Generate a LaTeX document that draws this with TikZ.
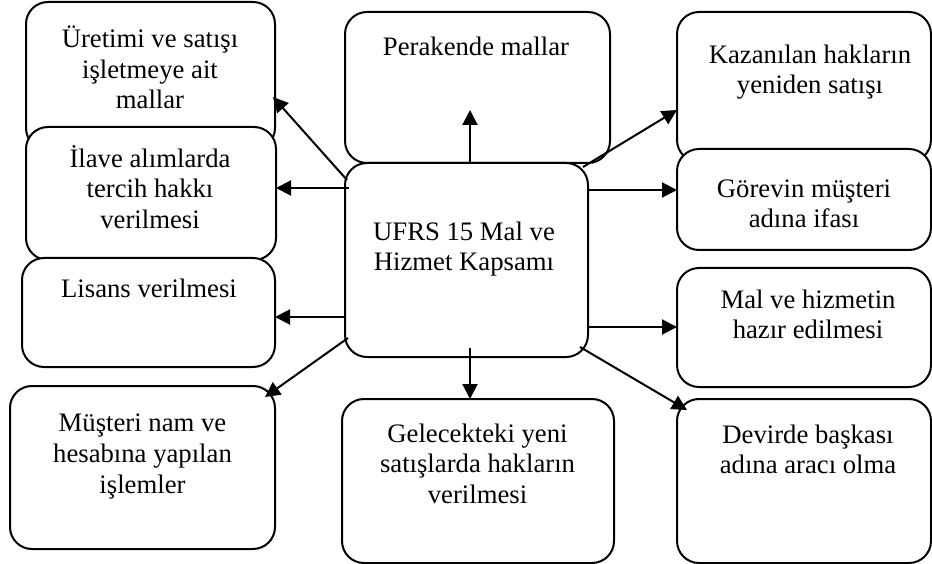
\documentclass[tikz,border=0pt]{standalone}
\usepackage{fontspec}
\setmainfont{Liberation Serif}
\usetikzlibrary{arrows.meta,calc}
\begin{document}
\begin{tikzpicture}[x=1pt,y=-1pt,
    box/.style={draw,line width=2pt,rounded corners=22pt,fill=white,
      anchor=north west,inner sep=0pt,outer sep=0pt},
    txt/.style={anchor=north,align=center,inner sep=0pt,
      font=\fontsize{26.7pt}{30.7pt}\selectfont},
    arr/.style={line width=2pt,-{Triangle[length=15pt,width=15pt]}}]
  \useasboundingbox (0,0) rectangle (932,564);

  % boxes, in drawing order (later ones cover earlier ones)
  \foreach \nm/\x/\y/\w/\h in {A/26/2/249/148,
                               B/26/127/250/133,
                               C/22/258/253/109,
                               D/10/386/265/163,
                               F/345/12/265/151,
                               G/677/12/254/150,
                               H/677/149/254/101,
                               I/677/268/254/119,
                               J/677/399/254/164,
                               K/342/399/272/164,
                               E/345/163/243/194}
  {\node[box,minimum width=\w pt,minimum height=\h pt] (\nm) at (\x,\y) {};}

  % texts
  \foreach \nm/\x/\y/\str in {A/150/25.5/{Üretimi ve satışı\\işletmeye ait\\mallar},
                              B/150/145/{İlave alımlarda\\tercih hakkı\\verilmesi},
                              C/149/276/{Lisans verilmesi},
                              D/142.5/410/{Müşteri nam ve\\hesabına yapılan\\işlemler},
                              E/464/218.5/{UFRS 15 Mal ve\\Hizmet Kapsamı},
                              F/476/33.5/{Perakende mallar},
                              G/810/41.5/{Kazanılan hakların\\yeniden satışı},
                              H/804/175.5/{Görevin müşteri\\adına ifası},
                              I/808/286.5/{Mal ve hizmetin\\hazır edilmesi},
                              J/808/421.5/{Devirde başkası\\adına aracı olma},
                              K/477.5/420.5/{Gelecekteki yeni\\satışlarda hakların\\verilmesi}}
  {\node[txt] (t\nm) at (\x,\y) {\strut\str};}

  % arrows out of the centre box
  \draw[arr] ($(E.north west)+(2,17)$) -- ($(A.east)+(-2,21)$);
  \draw[arr] ($(E.west)+(4,-72)$) coordinate (sB) -- (sB -| B.east);
  \draw[arr] ($(E.west)+(0,57)$) coordinate (sC) -- (sC -| C.east);
  \draw[arr] ($(E.south west)+(3,-19)$) -- ($(D.north east)+(-10,11)$);
  \draw[arr] ($(E.north)+(3.5,0)$) -- ($(F.south)+(-7.5,-53)$);
  \draw[arr] ($(E.north east)+(-5,4)$) -- ($(G.west)+(0,23)$);
  \draw[arr] ($(E.east)+(0,-70)$) coordinate (sH) -- (sH -| H.west);
  \draw[arr] ($(E.east)+(0,67)$) coordinate (sI) -- (sI -| I.west);
  \draw[arr] ($(E.south east)+(-8,-10)$) -- ($(J.north west)+(10,11)$);
  \draw[arr] ($(E.south)+(3.5,-9)$) coordinate (sK) -- (sK |- K.north);
\end{tikzpicture}
\end{document}
